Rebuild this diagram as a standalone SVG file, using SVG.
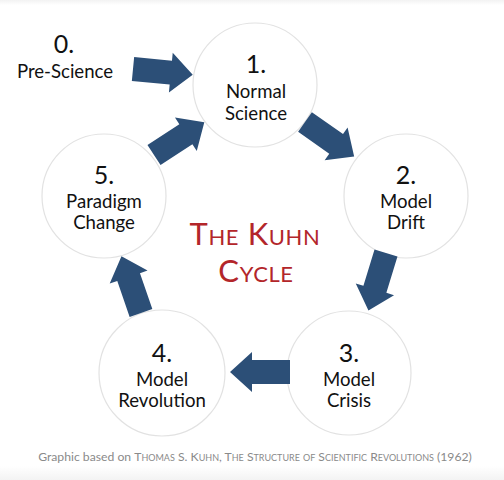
<svg xmlns="http://www.w3.org/2000/svg" width="504" height="480" viewBox="0 0 504 480">
  <defs>
    <linearGradient id="topfade" x1="0" y1="0" x2="0" y2="1">
      <stop offset="0" stop-color="#f2f2f2"/>
      <stop offset="1" stop-color="#ffffff"/>
    </linearGradient>
    <linearGradient id="botfade" x1="0" y1="0" x2="0" y2="1">
      <stop offset="0" stop-color="#ffffff"/>
      <stop offset="1" stop-color="#f3f3f3"/>
    </linearGradient>
    <path id="arrow" d="M0,-12 L38,-12 L38,-20 L60,0 L38,20 L38,12 L0,12 Z"/>
  </defs>
  <style>
    .node circle { fill: #ffffff; stroke: #e2e2e2; stroke-width: 1.2; }
    .num { font-family: Lato, "Liberation Sans", sans-serif; font-size: 25px; fill: #111111; text-anchor: middle; }
    .lbl { font-family: Lato, "Liberation Sans", sans-serif; font-size: 18.6px; fill: #111111; text-anchor: middle; }
    .title { font-family: Lato, "Liberation Sans", sans-serif; font-size: 31px; fill: #b3262a; text-anchor: middle; font-variant: small-caps; letter-spacing: 0.6px; }
    .foot { font-family: Lato, "Liberation Sans", sans-serif; font-size: 12.2px; fill: #8a8a8a; text-anchor: middle; }
    .sc { font-variant: small-caps; }
    #connectors use { fill: #2c4f77; }
  </style>
  <rect x="0" y="0" width="504" height="480" fill="#ffffff"/>
  <rect x="0" y="0" width="504" height="5" fill="url(#topfade)"/>
  <rect x="0" y="466" width="504" height="14" fill="url(#botfade)"/>

  <g id="node0">
    <text class="num" x="64" y="53">0.</text>
    <text class="lbl" x="65" y="78">Pre-Science</text>
  </g>
  <g id="node1" class="node">
    <circle cx="255" cy="85" r="62"/>
    <text class="num" x="256" y="73">1.</text>
    <text class="lbl" x="256" y="98">Normal</text>
    <text class="lbl" x="256" y="120">Science</text>
  </g>
  <g id="node2" class="node">
    <circle cx="406" cy="196" r="62"/>
    <text class="num" x="406" y="184">2.</text>
    <text class="lbl" x="406" y="208">Model</text>
    <text class="lbl" x="406" y="229">Drift</text>
  </g>
  <g id="node3" class="node">
    <circle cx="349" cy="373" r="62"/>
    <text class="num" x="349" y="362">3.</text>
    <text class="lbl" x="349" y="386">Model</text>
    <text class="lbl" x="349" y="407">Crisis</text>
  </g>
  <g id="node4" class="node">
    <circle cx="162" cy="373" r="63"/>
    <text class="num" x="162" y="362">4.</text>
    <text class="lbl" x="162" y="386">Model</text>
    <text class="lbl" x="162" y="407">Revolution</text>
  </g>
  <g id="node5" class="node">
    <circle cx="104" cy="196" r="62"/>
    <text class="num" x="104" y="184">5.</text>
    <text class="lbl" x="104" y="208">Paradigm</text>
    <text class="lbl" x="104" y="229">Change</text>
  </g>

  <g id="connectors">
    <use href="#arrow" transform="translate(133,69) rotate(5.5)"/>
    <use href="#arrow" transform="translate(305,122) rotate(35)"/>
    <use href="#arrow" transform="translate(386,253) rotate(107)"/>
    <use href="#arrow" transform="translate(290,372) rotate(180)"/>
    <use href="#arrow" transform="translate(141,313) rotate(251)"/>
    <use href="#arrow" transform="translate(154,155) rotate(-33)"/>
  </g>

  <g id="title">
    <text class="title" x="255" y="245">The Kuhn</text>
    <text class="title" x="256" y="282">Cycle</text>
  </g>

  <text class="foot" x="255" y="461">Graphic based on <tspan class="sc">Thomas S. Kuhn, The Structure of Scientific Revolutions</tspan> (1962)</text>
</svg>
